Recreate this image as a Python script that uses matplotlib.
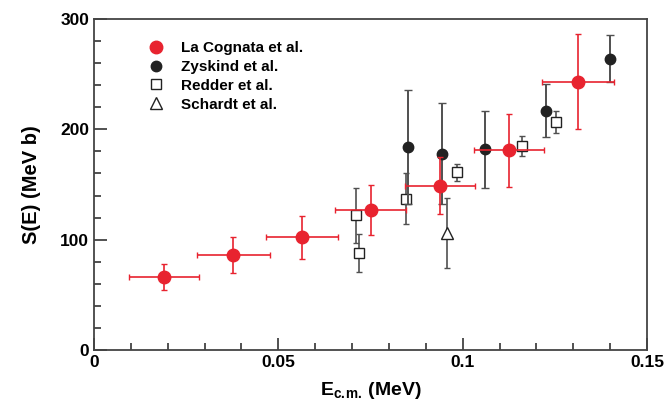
import matplotlib.pyplot as plt
from matplotlib.lines import Line2D

plt.rcParams['font.family'] = ['Liberation Sans', 'DejaVu Sans']
plt.rcParams['font.weight'] = 'bold'

# La Cognata et al.
lc_x = [0.019, 0.0378, 0.0564, 0.0751, 0.0938, 0.1126, 0.1312]
lc_y = [66, 86, 102, 127, 149, 181, 243]
lc_xerr = [0.0096, 0.0098, 0.0098, 0.0096, 0.0095, 0.0095, 0.0098]
lc_yerr = [12, 16, 19.5, 22.5, 26, 33, 43]

# Zyskind et al.
zy_x = [0.0853, 0.0943, 0.106, 0.1226, 0.140]
zy_y = [184, 178, 182, 217, 264]
zy_yerr = [52, 46, 35, 24, 21]

# Redder et al.
re_x = [0.0711, 0.0720, 0.0845, 0.0984, 0.1162, 0.1252]
re_y = [122, 88, 137, 161, 185, 207]
re_yerr = [25, 17.5, 23, 8, 9, 10]

# Schardt et al.
sc_x = [0.0957]
sc_y = [106]
sc_yerr = [32]

red = '#e8232f'
dark = '#222222'
bar = '#505050'

fig = plt.figure(figsize=(6.67, 4.03), dpi=100)
ax = fig.add_axes([0.141, 0.1315, 0.829, 0.8215])

ax.errorbar(re_x, re_y, yerr=re_yerr, fmt='s', ms=7, mfc='white', mec=dark,
            mew=1.0, ecolor=bar, elinewidth=1.2, capsize=2.5, zorder=3)
ax.errorbar(sc_x, sc_y, yerr=sc_yerr, fmt='^', ms=8, mfc='white', mec=dark,
            mew=1.0, ecolor=bar, elinewidth=1.2, capsize=2.5, zorder=3)
ax.errorbar(zy_x, zy_y, yerr=zy_yerr, fmt='o', ms=7.5, color=dark,
            ecolor=bar, elinewidth=1.4, capsize=3, zorder=4)
ax.errorbar(lc_x, lc_y, xerr=lc_xerr, yerr=lc_yerr, fmt='o', ms=9, color=red,
            ecolor=red, elinewidth=1.2, capsize=2.5, zorder=5)

ax.set_xlim(0, 0.15)
ax.set_ylim(0, 300)
ax.set_xticks([0, 0.05, 0.1, 0.15])
ax.set_xticklabels(['0', '0.05', '0.1', '0.15'])
ax.set_yticks([0, 100, 200, 300])
ax.set_xticks([i * 0.01 for i in range(16)], minor=True)
ax.set_yticks(range(0, 301, 20), minor=True)
ax.tick_params(which='both', direction='in', top=False, right=False,
               labelsize=12.5, width=1.2, color='#333333')
ax.tick_params(which='major', length=9)
ax.tick_params(which='minor', length=5)
for s in ax.spines.values():
    s.set_linewidth(1.3)
    s.set_color('#444444')

ax.set_xlabel('E$_{\\mathregular{c.\\!m.}}\\,$(MeV)', fontsize=14, fontweight='bold',
              labelpad=7)
ax.set_ylabel('S(E) (MeV b)', fontsize=14.5, fontweight='bold', labelpad=14)

handles = [
    Line2D([], [], ls='none', marker='o', ms=9, color=red),
    Line2D([], [], ls='none', marker='o', ms=7.5, color=dark),
    Line2D([], [], ls='none', marker='s', ms=7, mfc='white', mec=dark),
    Line2D([], [], ls='none', marker='^', ms=8, mfc='white', mec=dark),
]
labels = ['La Cognata et al.', 'Zyskind et al.', 'Redder et al.', 'Schardt et al.']
ax.legend(handles, labels, loc='upper left', bbox_to_anchor=(0.06, 0.975),
          frameon=False, fontsize=11, handletextpad=0.6, labelspacing=0.32)

fig.savefig('out.png', dpi=100)
